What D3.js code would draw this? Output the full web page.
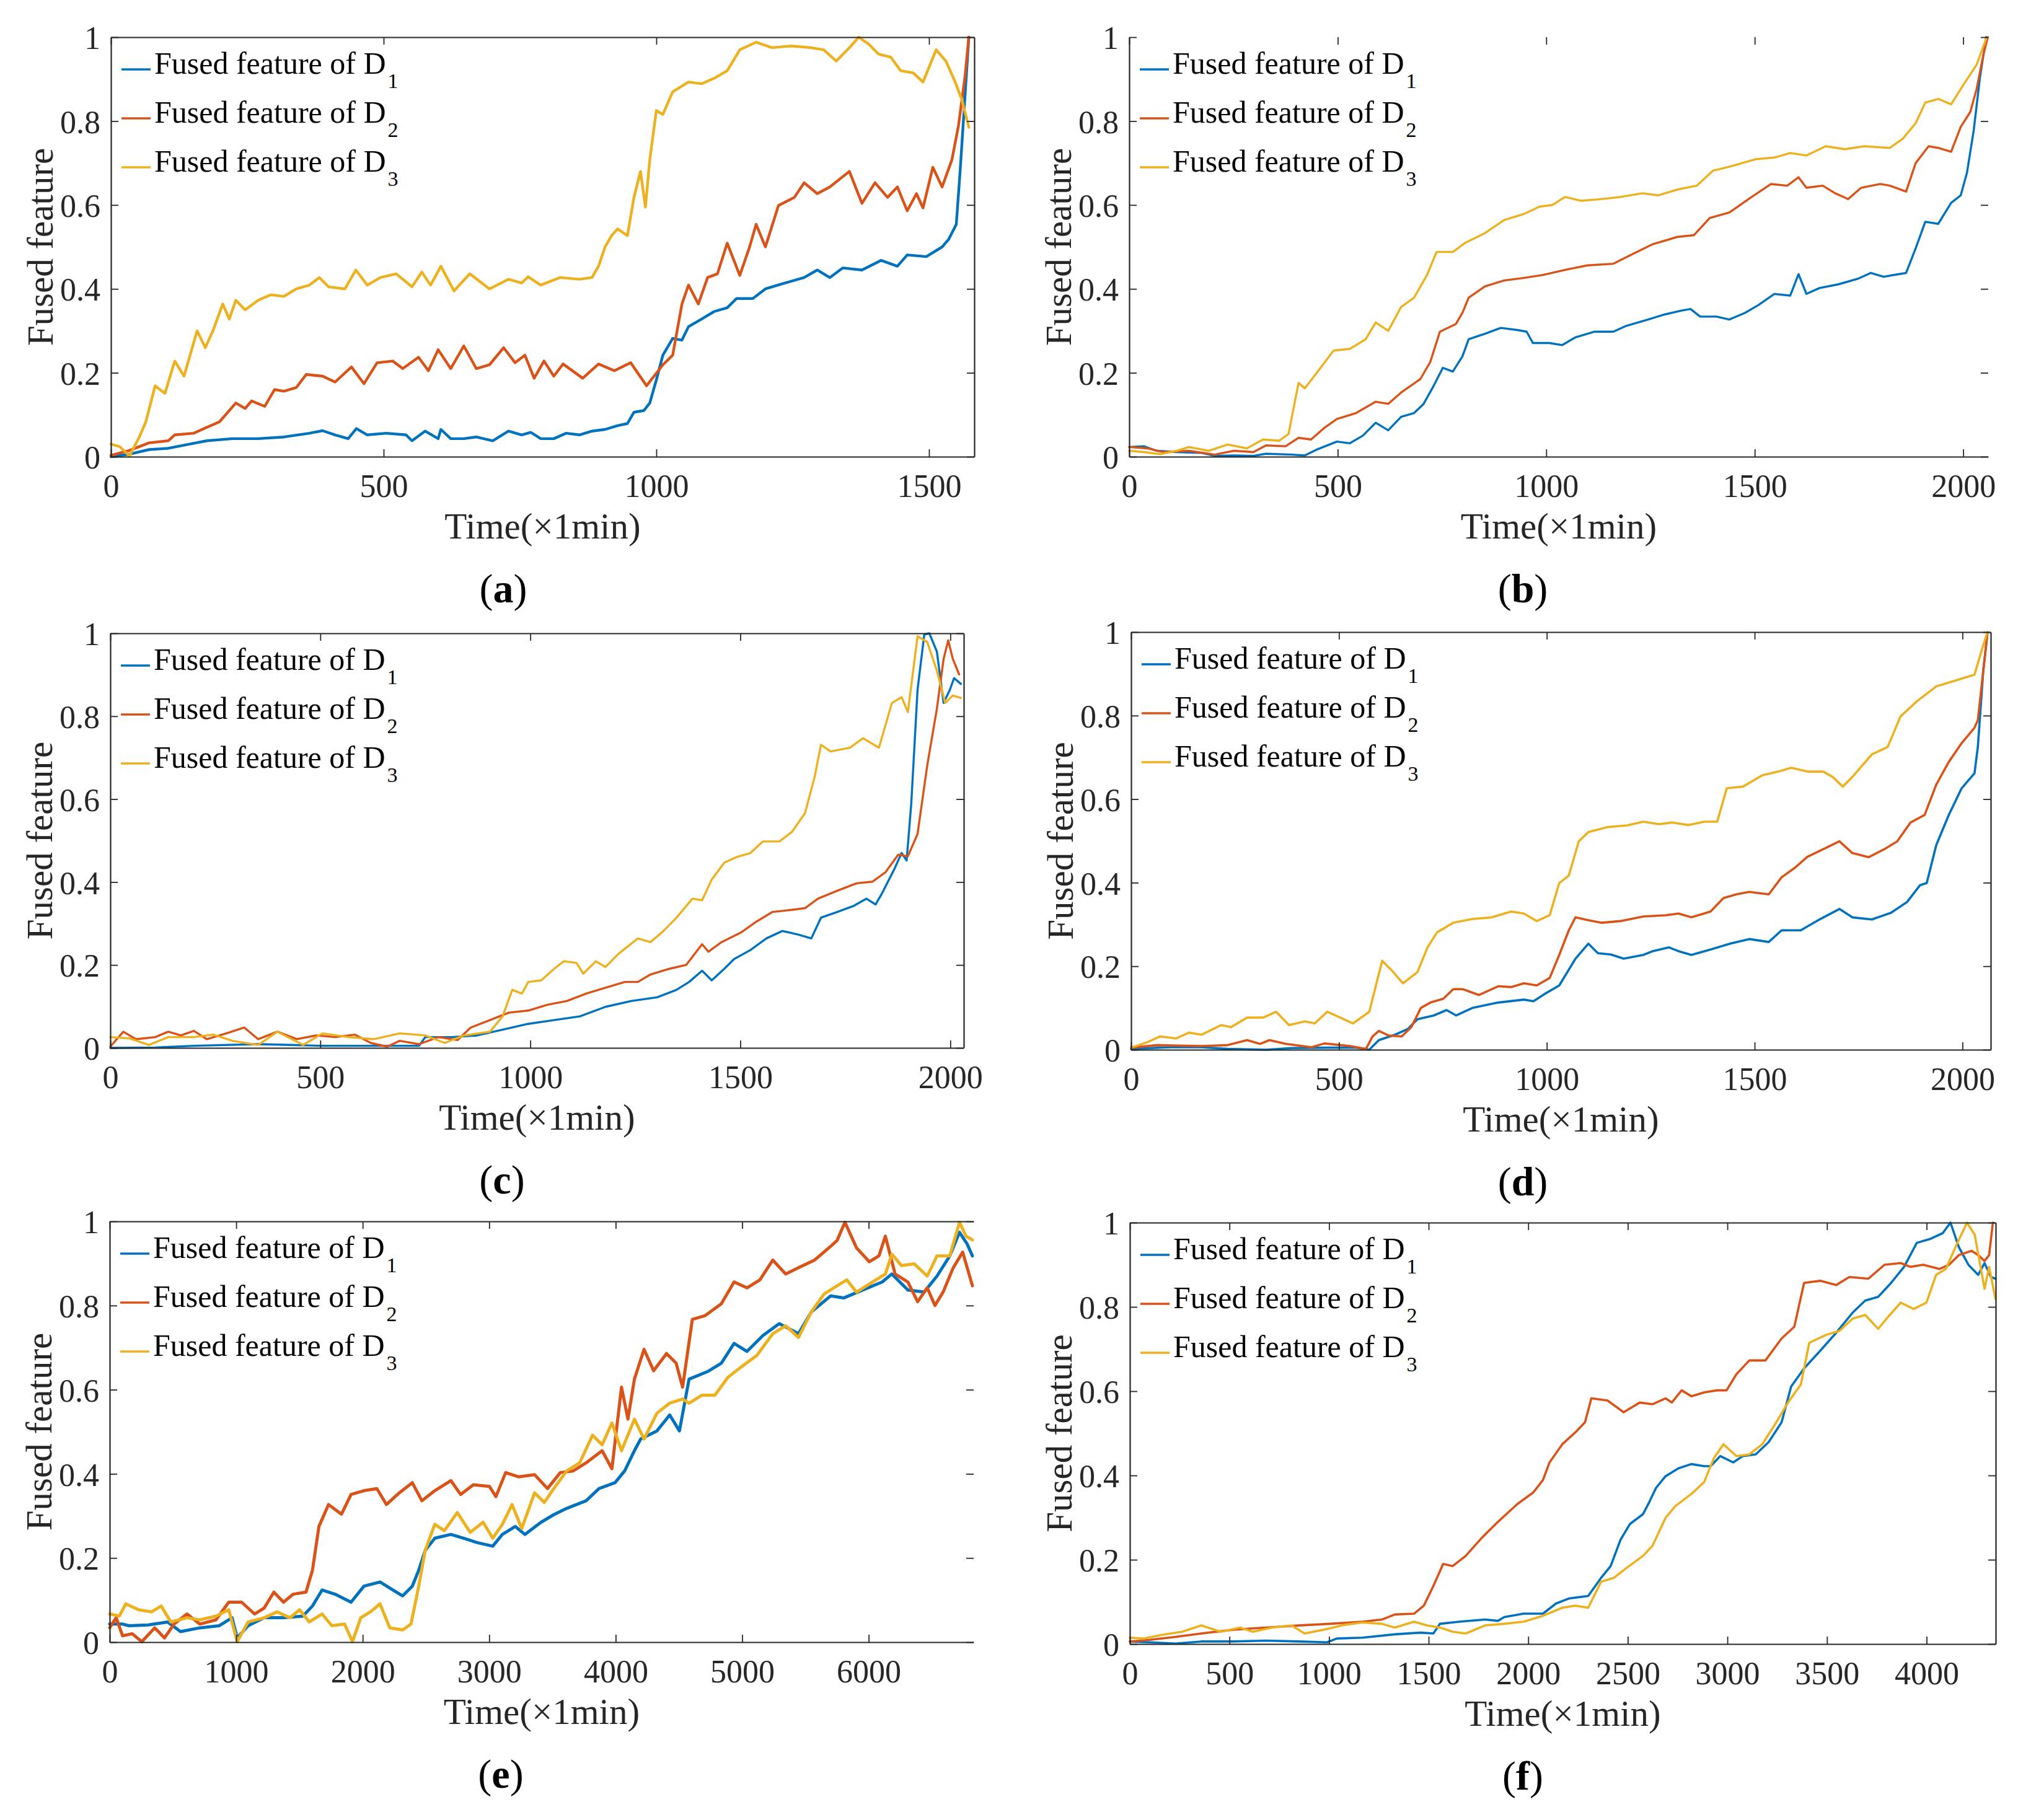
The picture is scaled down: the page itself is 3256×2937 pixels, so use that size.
<!DOCTYPE html>
<html>
<head>
<meta charset="utf-8">
<script src="https://cdn.jsdelivr.net/npm/d3@7"></script>
<style>
  html, body { margin: 0; padding: 0; background: #ffffff; }
  svg { display: block; }
</style>
</head>
<body>
<svg id="chart" width="3256" height="2937"></svg>
<script>
// ---------------- DATA ----------------
const seriesNames = ["Fused feature of D", "Fused feature of D", "Fused feature of D"];
const seriesSubs = ["1", "2", "3"];
const panelLetters = ["a", "b", "c", "d", "e", "f"];
const yTicks = [0, 0.2, 0.4, 0.6, 0.8, 1];
const xTicksA = [0, 500, 1000, 1500];
const xTicksB = [0, 500, 1000, 1500, 2000];
const xTicksC = [0, 500, 1000, 1500, 2000];
const xTicksD = [0, 500, 1000, 1500, 2000];
const xTicksE = [0, 1000, 2000, 3000, 4000, 5000, 6000];
const xTicksF = [0, 500, 1000, 1500, 2000, 2500, 3000, 3500, 4000];
const xMax = [1583, 2060, 2032, 2068, 6830, 4347];

// Panel (a)
const aD1 = [[0,0],[34,0.006],[70,0.017],[105,0.02],[140,0.029],[176,0.038],[223,0.043],[270,0.043],[317,0.047],[364,0.056],[388,0.062],[411,0.052],[435,0.043],[450,0.067],[470,0.052],[505,0.056],[541,0.052],[552,0.038],[576,0.061],[600,0.043],[605,0.065],[623,0.043],[647,0.043],[670,0.047],[700,0.038],[729,0.061],[753,0.052],[770,0.058],[788,0.043],[812,0.043],[835,0.056],[859,0.052],[882,0.061],[906,0.065],[929,0.074],[947,0.079],[959,0.106],[977,0.11],[988,0.128],[1000,0.183],[1012,0.242],[1030,0.282],[1047,0.278],[1059,0.31],[1083,0.328],[1106,0.346],[1130,0.355],[1147,0.377],[1177,0.377],[1200,0.4],[1236,0.414],[1271,0.427],[1295,0.445],[1318,0.427],[1342,0.45],[1377,0.445],[1412,0.468],[1442,0.454],[1460,0.481],[1495,0.477],[1524,0.5],[1536,0.518],[1550,0.554],[1557,0.68],[1566,0.86],[1573,1.0]];
const aD2 = [[0,0.003],[34,0.015],[70,0.033],[105,0.038],[117,0.052],[152,0.056],[176,0.07],[199,0.083],[229,0.128],[246,0.115],[258,0.133],[282,0.12],[300,0.16],[317,0.156],[340,0.165],[358,0.196],[388,0.192],[411,0.178],[441,0.214],[464,0.174],[488,0.224],[517,0.228],[535,0.21],[564,0.237],[582,0.205],[600,0.255],[623,0.21],[647,0.264],[670,0.21],[694,0.219],[720,0.26],[741,0.224],[759,0.242],[776,0.187],[794,0.228],[812,0.192],[829,0.221],[865,0.187],[894,0.221],[923,0.205],[953,0.224],[982,0.169],[1012,0.219],[1030,0.242],[1047,0.364],[1059,0.409],[1077,0.364],[1094,0.427],[1112,0.436],[1130,0.509],[1153,0.432],[1171,0.5],[1183,0.554],[1200,0.5],[1224,0.599],[1253,0.618],[1271,0.653],[1295,0.627],[1318,0.643],[1354,0.68],[1377,0.604],[1401,0.653],[1424,0.618],[1442,0.643],[1460,0.586],[1477,0.627],[1489,0.593],[1507,0.69],[1524,0.643],[1542,0.708],[1554,0.789],[1566,0.907],[1573,1.0]];
const aD3 = [[0,0.03],[16,0.024],[34,0.002],[52,0.047],[64,0.083],[81,0.169],[99,0.151],[117,0.228],[134,0.192],[158,0.3],[173,0.26],[187,0.3],[205,0.364],[217,0.328],[229,0.373],[246,0.35],[270,0.373],[293,0.386],[317,0.382],[340,0.4],[364,0.409],[382,0.427],[399,0.405],[429,0.4],[449,0.445],[470,0.409],[494,0.427],[523,0.436],[552,0.405],[570,0.44],[586,0.409],[605,0.454],[629,0.395],[658,0.436],[694,0.4],[729,0.423],[753,0.414],[765,0.429],[788,0.409],[823,0.427],[859,0.423],[882,0.427],[894,0.454],[906,0.5],[918,0.527],[929,0.543],[947,0.527],[959,0.618],[971,0.68],[980,0.595],[988,0.708],[1000,0.825],[1012,0.816],[1030,0.87],[1059,0.893],[1083,0.889],[1106,0.902],[1130,0.92],[1153,0.97],[1183,0.988],[1212,0.975],[1248,0.979],[1283,0.975],[1307,0.97],[1330,0.943],[1354,0.975],[1371,1.0],[1389,0.984],[1407,0.96],[1430,0.952],[1448,0.92],[1471,0.915],[1489,0.893],[1513,0.97],[1531,0.943],[1548,0.893],[1560,0.852],[1573,0.785]];

// Panel (b)
const bD1 = [[0,0.023],[35,0.025],[66,0.014],[113,0.011],[174,0.009],[205,0.002],[251,0.003],[298,0.002],[328,0.007],[390,0.005],[421,0.003],[452,0.018],[498,0.036],[529,0.032],[560,0.05],[591,0.081],[621,0.063],[652,0.095],[683,0.104],[706,0.126],[729,0.167],[752,0.212],[776,0.203],[799,0.239],[814,0.28],[853,0.293],[891,0.307],[930,0.302],[953,0.298],[968,0.271],[1007,0.271],[1038,0.266],[1069,0.284],[1115,0.298],[1161,0.298],[1192,0.312],[1238,0.325],[1284,0.339],[1323,0.348],[1346,0.352],[1369,0.334],[1408,0.334],[1439,0.327],[1477,0.343],[1508,0.361],[1547,0.388],[1585,0.384],[1605,0.435],[1624,0.388],[1655,0.402],[1701,0.411],[1747,0.424],[1778,0.438],[1809,0.429],[1863,0.438],[1886,0.497],[1909,0.56],[1940,0.555],[1971,0.605],[1994,0.623],[2009,0.677],[2025,0.777],[2040,0.903],[2055,1.0]];
const bD2 = [[0,0.023],[43,0.02],[82,0.011],[143,0.014],[205,0.005],[251,0.014],[298,0.011],[328,0.027],[375,0.025],[406,0.045],[436,0.041],[467,0.068],[498,0.09],[544,0.104],[591,0.131],[621,0.126],[652,0.153],[698,0.185],[722,0.226],[745,0.298],[783,0.316],[799,0.343],[814,0.379],[853,0.406],[899,0.42],[945,0.426],[991,0.433],[1053,0.447],[1099,0.456],[1161,0.46],[1207,0.483],[1254,0.506],[1315,0.524],[1354,0.528],[1392,0.569],[1439,0.582],[1485,0.614],[1539,0.65],[1578,0.646],[1605,0.666],[1624,0.641],[1663,0.646],[1693,0.628],[1724,0.614],[1755,0.641],[1801,0.65],[1824,0.646],[1863,0.632],[1886,0.7],[1917,0.74],[1940,0.736],[1971,0.727],[1994,0.786],[2017,0.822],[2032,0.876],[2048,0.957],[2059,1.0]];
const bD3 = [[0,0.014],[35,0.011],[74,0.006],[113,0.014],[143,0.023],[190,0.014],[236,0.029],[282,0.02],[321,0.041],[359,0.038],[382,0.054],[406,0.176],[421,0.163],[452,0.203],[490,0.253],[529,0.257],[567,0.28],[591,0.32],[621,0.3],[652,0.357],[683,0.379],[714,0.433],[737,0.488],[776,0.488],[806,0.51],[853,0.533],[899,0.564],[945,0.578],[984,0.596],[1015,0.6],[1045,0.619],[1084,0.61],[1130,0.614],[1177,0.619],[1231,0.628],[1269,0.623],[1315,0.637],[1361,0.646],[1400,0.682],[1439,0.691],[1501,0.709],[1547,0.713],[1585,0.724],[1624,0.718],[1670,0.74],[1716,0.733],[1763,0.74],[1824,0.736],[1855,0.758],[1886,0.795],[1909,0.844],[1940,0.853],[1971,0.84],[2002,0.889],[2032,0.934],[2055,0.996]];

// Panel (c)
const cD1 = [[0,0],[107,0.001],[199,0.005],[352,0.009],[429,0.007],[505,0.005],[659,0.005],[735,0.005],[750,0.026],[812,0.026],[873,0.03],[934,0.044],[995,0.058],[1057,0.067],[1118,0.076],[1179,0.099],[1240,0.113],[1302,0.122],[1348,0.14],[1378,0.159],[1409,0.186],[1432,0.163],[1462,0.191],[1485,0.214],[1524,0.236],[1562,0.264],[1600,0.282],[1639,0.273],[1669,0.264],[1692,0.314],[1731,0.328],[1769,0.342],[1800,0.36],[1822,0.346],[1838,0.374],[1868,0.434],[1884,0.47],[1896,0.452],[1907,0.589],[1922,0.864],[1938,0.997],[1950,1.0],[1968,0.956],[1984,0.832],[1999,0.864],[2009,0.892],[2025,0.878]];
const cD2 = [[0,0.003],[31,0.039],[61,0.021],[107,0.026],[138,0.039],[168,0.03],[199,0.041],[230,0.021],[276,0.035],[319,0.049],[352,0.021],[398,0.039],[444,0.021],[490,0.03],[536,0.026],[582,0.032],[620,0.012],[659,0.003],[689,0.017],[735,0.009],[781,0.026],[827,0.019],[858,0.049],[904,0.067],[949,0.085],[995,0.09],[1041,0.104],[1087,0.113],[1133,0.131],[1179,0.145],[1225,0.159],[1256,0.159],[1286,0.177],[1332,0.191],[1371,0.2],[1409,0.25],[1424,0.232],[1455,0.255],[1501,0.278],[1539,0.305],[1577,0.328],[1623,0.333],[1654,0.337],[1685,0.36],[1731,0.379],[1777,0.397],[1815,0.401],[1846,0.424],[1876,0.466],[1899,0.462],[1922,0.516],[1945,0.681],[1968,0.818],[1984,0.938],[1995,0.983],[2006,0.938],[2021,0.901]];
const cD3 = [[0,0.026],[46,0.023],[92,0.007],[138,0.026],[199,0.026],[245,0.032],[291,0.017],[352,0.007],[398,0.039],[459,0.007],[505,0.035],[567,0.026],[628,0.021],[689,0.035],[750,0.03],[796,0.012],[842,0.03],[904,0.039],[934,0.076],[957,0.14],[980,0.131],[995,0.159],[1026,0.163],[1057,0.191],[1080,0.209],[1110,0.205],[1126,0.179],[1156,0.209],[1179,0.195],[1210,0.227],[1256,0.264],[1286,0.255],[1317,0.282],[1348,0.314],[1386,0.36],[1409,0.356],[1432,0.406],[1462,0.447],[1493,0.461],[1524,0.47],[1554,0.498],[1593,0.498],[1623,0.521],[1654,0.566],[1677,0.654],[1692,0.731],[1715,0.715],[1761,0.724],[1792,0.747],[1830,0.724],[1861,0.832],[1884,0.846],[1899,0.81],[1922,0.993],[1945,0.979],[1968,0.91],[1988,0.832],[2006,0.85],[2025,0.844]];

// Panel (d)
const dD1 = [[0,0.002],[93,0.006],[170,0.006],[232,0.002],[325,0],[387,0.004],[480,0.005],[542,0.005],[573,0],[596,0.023],[635,0.036],[666,0.05],[689,0.073],[728,0.082],[759,0.095],[782,0.082],[821,0.1],[883,0.113],[945,0.12],[968,0.116],[999,0.136],[1030,0.154],[1069,0.218],[1100,0.254],[1123,0.231],[1154,0.228],[1185,0.218],[1232,0.227],[1255,0.236],[1294,0.245],[1317,0.236],[1348,0.227],[1394,0.24],[1441,0.254],[1487,0.265],[1534,0.258],[1565,0.286],[1611,0.286],[1658,0.313],[1704,0.337],[1735,0.317],[1782,0.312],[1828,0.328],[1867,0.354],[1898,0.394],[1914,0.399],[1937,0.49],[1967,0.562],[1998,0.626],[2029,0.662],[2037,0.725],[2050,0.907],[2060,0.997]];
const dD2 = [[0,0.005],[62,0.011],[170,0.009],[232,0.011],[279,0.023],[310,0.014],[333,0.023],[372,0.014],[434,0.006],[465,0.015],[527,0.009],[565,0.002],[581,0.032],[596,0.045],[620,0.034],[651,0.032],[674,0.054],[697,0.1],[720,0.113],[751,0.122],[775,0.145],[798,0.145],[837,0.131],[883,0.152],[914,0.15],[945,0.159],[976,0.154],[1007,0.172],[1030,0.227],[1053,0.286],[1069,0.317],[1100,0.31],[1131,0.304],[1177,0.308],[1232,0.319],[1286,0.322],[1317,0.326],[1348,0.317],[1394,0.331],[1425,0.363],[1456,0.372],[1487,0.378],[1534,0.372],[1565,0.413],[1596,0.435],[1627,0.462],[1665,0.48],[1704,0.499],[1735,0.471],[1774,0.461],[1812,0.48],[1843,0.499],[1875,0.544],[1909,0.562],[1937,0.635],[1967,0.689],[1998,0.734],[2029,0.771],[2037,0.789],[2050,0.907],[2060,0.997]];
const dD3 = [[0,0.005],[39,0.018],[70,0.032],[108,0.027],[139,0.041],[170,0.036],[217,0.059],[240,0.054],[279,0.077],[318,0.077],[349,0.091],[380,0.059],[418,0.068],[442,0.063],[472,0.091],[503,0.077],[534,0.063],[573,0.091],[589,0.154],[604,0.213],[627,0.19],[654,0.159],[689,0.186],[713,0.245],[736,0.281],[775,0.304],[821,0.313],[868,0.317],[914,0.331],[945,0.326],[976,0.308],[1007,0.322],[1030,0.399],[1053,0.417],[1077,0.499],[1100,0.521],[1146,0.533],[1193,0.537],[1232,0.546],[1270,0.54],[1301,0.544],[1340,0.538],[1379,0.546],[1410,0.546],[1433,0.626],[1472,0.63],[1518,0.657],[1557,0.666],[1588,0.675],[1627,0.666],[1665,0.666],[1688,0.653],[1712,0.63],[1735,0.653],[1782,0.707],[1820,0.725],[1851,0.798],[1890,0.834],[1937,0.87],[1983,0.884],[2029,0.898],[2045,0.952],[2060,1.0]];

// Panel (e)
const eD1 = [[0,0.043],[102,0.043],[153,0.039],[305,0.041],[458,0.048],[560,0.025],[712,0.034],[865,0.039],[967,0.058],[1008,0.01],[1094,0.039],[1221,0.058],[1374,0.058],[1527,0.062],[1603,0.086],[1679,0.124],[1781,0.114],[1908,0.095],[2010,0.133],[2137,0.143],[2239,0.124],[2316,0.11],[2392,0.133],[2443,0.171],[2494,0.218],[2570,0.247],[2697,0.256],[2799,0.247],[2901,0.237],[3028,0.228],[3104,0.256],[3206,0.275],[3282,0.256],[3410,0.285],[3511,0.303],[3613,0.318],[3766,0.336],[3868,0.365],[3995,0.379],[4071,0.407],[4148,0.455],[4198,0.483],[4326,0.502],[4427,0.54],[4504,0.502],[4580,0.625],[4733,0.644],[4835,0.663],[4936,0.71],[5038,0.691],[5165,0.729],[5293,0.757],[5445,0.733],[5547,0.785],[5700,0.823],[5802,0.818],[5954,0.837],[6107,0.856],[6183,0.875],[6310,0.837],[6438,0.832],[6540,0.87],[6641,0.918],[6718,0.974],[6779,0.946],[6820,0.918]];
const eD2 = [[0,0.034],[51,0.058],[102,0.015],[178,0.02],[254,0.001],[356,0.034],[433,0.01],[509,0.043],[611,0.067],[712,0.043],[840,0.053],[941,0.095],[1043,0.095],[1145,0.067],[1221,0.081],[1298,0.119],[1374,0.095],[1450,0.114],[1552,0.119],[1603,0.171],[1654,0.275],[1730,0.327],[1832,0.304],[1908,0.351],[2010,0.36],[2112,0.365],[2188,0.327],[2290,0.355],[2392,0.379],[2468,0.336],[2570,0.36],[2697,0.384],[2774,0.351],[2875,0.374],[3002,0.37],[3053,0.346],[3130,0.403],[3231,0.393],[3359,0.398],[3461,0.365],[3562,0.403],[3664,0.407],[3766,0.426],[3893,0.455],[3970,0.412],[4046,0.606],[4097,0.53],[4148,0.625],[4224,0.696],[4300,0.645],[4402,0.686],[4478,0.663],[4529,0.606],[4606,0.767],[4707,0.776],[4835,0.804],[4936,0.856],[5038,0.842],[5140,0.861],[5242,0.908],[5344,0.875],[5445,0.89],[5572,0.908],[5700,0.941],[5751,0.955],[5812,0.998],[5904,0.937],[6005,0.904],[6081,0.918],[6132,0.965],[6209,0.875],[6310,0.856],[6387,0.809],[6463,0.842],[6524,0.8],[6590,0.833],[6667,0.889],[6743,0.927],[6820,0.847]];
const eD3 = [[0,0.067],[76,0.062],[127,0.091],[229,0.077],[331,0.072],[407,0.086],[483,0.048],[611,0.058],[712,0.053],[840,0.062],[941,0.077],[1008,0.001],[1094,0.048],[1221,0.058],[1323,0.072],[1425,0.058],[1501,0.077],[1578,0.048],[1679,0.067],[1756,0.039],[1857,0.043],[1919,0.001],[1985,0.058],[2061,0.072],[2137,0.091],[2214,0.034],[2316,0.029],[2382,0.043],[2443,0.133],[2494,0.218],[2570,0.28],[2646,0.265],[2748,0.308],[2850,0.261],[2952,0.285],[3028,0.247],[3104,0.28],[3181,0.327],[3257,0.27],[3359,0.355],[3435,0.332],[3511,0.365],[3613,0.407],[3715,0.426],[3817,0.492],[3893,0.469],[3970,0.521],[4046,0.455],[4148,0.53],[4224,0.483],[4326,0.544],[4427,0.568],[4529,0.578],[4580,0.568],[4682,0.587],[4784,0.587],[4886,0.629],[4987,0.653],[5115,0.681],[5242,0.733],[5344,0.752],[5445,0.724],[5547,0.785],[5649,0.828],[5751,0.847],[5827,0.861],[5904,0.832],[6005,0.851],[6132,0.875],[6183,0.922],[6259,0.895],[6361,0.899],[6463,0.87],[6540,0.918],[6641,0.918],[6718,0.998],[6769,0.965],[6820,0.956]];

// Panel (f)
const fD1 = [[0,0.006],[100,0.004],[230,0.001],[359,0.006],[521,0.006],[683,0.008],[845,0.006],[990,0.004],[1039,0.013],[1168,0.015],[1330,0.023],[1459,0.027],[1524,0.025],[1557,0.048],[1654,0.053],[1783,0.058],[1848,0.055],[1880,0.064],[1977,0.072],[2074,0.072],[2139,0.096],[2204,0.108],[2301,0.114],[2366,0.157],[2414,0.185],[2463,0.247],[2511,0.285],[2576,0.308],[2608,0.337],[2641,0.37],[2689,0.398],[2754,0.417],[2819,0.427],[2883,0.422],[2916,0.422],[2964,0.446],[3029,0.431],[3077,0.446],[3142,0.45],[3207,0.479],[3272,0.526],[3320,0.611],[3385,0.654],[3466,0.696],[3547,0.739],[3628,0.786],[3692,0.815],[3757,0.824],[3822,0.857],[3887,0.895],[3951,0.952],[4016,0.961],[4081,0.975],[4120,1.0],[4162,0.942],[4210,0.9],[4259,0.876],[4291,0.904],[4323,0.871],[4346,0.867]];
const fD2 = [[0,0.006],[100,0.01],[230,0.017],[359,0.025],[521,0.034],[683,0.039],[845,0.044],[1006,0.048],[1168,0.053],[1265,0.058],[1330,0.07],[1427,0.072],[1476,0.091],[1524,0.138],[1573,0.19],[1621,0.185],[1686,0.209],[1767,0.252],[1848,0.29],[1945,0.332],[2026,0.36],[2074,0.389],[2107,0.431],[2171,0.474],[2236,0.502],[2285,0.526],[2317,0.583],[2398,0.578],[2479,0.55],[2560,0.573],[2624,0.569],[2689,0.583],[2721,0.573],[2770,0.602],[2819,0.588],[2883,0.597],[2948,0.602],[2996,0.602],[3045,0.64],[3110,0.673],[3191,0.673],[3272,0.725],[3336,0.753],[3385,0.857],[3466,0.862],[3547,0.852],[3612,0.871],[3708,0.867],[3789,0.9],[3870,0.904],[3919,0.895],[3983,0.9],[4064,0.89],[4113,0.9],[4162,0.923],[4226,0.933],[4259,0.923],[4291,0.909],[4314,0.923],[4333,1.0]];
const fD3 = [[0,0.015],[68,0.013],[165,0.022],[262,0.029],[359,0.044],[456,0.029],[553,0.039],[618,0.029],[715,0.039],[812,0.044],[877,0.025],[974,0.034],[1071,0.045],[1168,0.051],[1265,0.048],[1330,0.039],[1427,0.053],[1492,0.044],[1557,0.039],[1621,0.029],[1686,0.025],[1783,0.044],[1880,0.048],[1977,0.053],[2074,0.067],[2171,0.086],[2236,0.091],[2301,0.086],[2366,0.148],[2430,0.157],[2495,0.181],[2576,0.209],[2624,0.233],[2689,0.299],[2738,0.327],[2819,0.356],[2883,0.384],[2932,0.441],[2980,0.474],[3045,0.446],[3110,0.45],[3175,0.474],[3239,0.521],[3304,0.573],[3369,0.616],[3411,0.715],[3498,0.734],[3563,0.743],[3628,0.772],[3692,0.781],[3757,0.748],[3806,0.776],[3870,0.81],[3935,0.795],[3999,0.81],[4048,0.876],[4097,0.89],[4145,0.942],[4203,1.0],[4242,0.971],[4291,0.843],[4314,0.895],[4346,0.819]];

const colors = ["#0072BD", "#D95319", "#EDB120"];

// ---------------- LAYOUT ----------------
const panels = [
  { key: "a", left: 179,  right: 1572, top: 60,   bottom: 737,  xmax: xMax[0], ticks: xTicksA, data: [aD1, aD2, aD3], lw: 4.4, boxTop: true,  boxRight: true,  labelX: 812 },
  { key: "b", left: 1822, right: 3208, top: 60,   bottom: 737,  xmax: xMax[1], ticks: xTicksB, data: [bD1, bD2, bD3], lw: 3.4, boxTop: false, boxRight: false, labelX: 2457 },
  { key: "c", left: 178,  right: 1555, top: 1022, bottom: 1691, xmax: xMax[2], ticks: xTicksC, data: [cD1, cD2, cD3], lw: 3.4, boxTop: true,  boxRight: true,  labelX: 810 },
  { key: "d", left: 1825, right: 3212, top: 1020, bottom: 1694, xmax: xMax[3], ticks: xTicksD, data: [dD1, dD2, dD3], lw: 3.6, boxTop: true,  boxRight: true,  labelX: 2457 },
  { key: "e", left: 177,  right: 1571, top: 1971, bottom: 2650, xmax: xMax[4], ticks: xTicksE, data: [eD1, eD2, eD3], lw: 5.0, boxTop: true,  boxRight: false, labelX: 808 },
  { key: "f", left: 1823, right: 3220, top: 1973, bottom: 2653, xmax: xMax[5], ticks: xTicksF, data: [fD1, fD2, fD3], lw: 3.6, boxTop: true,  boxRight: true,  labelX: 2457 }
];

const FONT = "'Liberation Serif', 'Times New Roman', Times, serif";
const AX = "#262626";
const svg = d3.select("#chart");
svg.append("rect").attr("width", 3256).attr("height", 2937).attr("fill", "#ffffff");

const yFmt = d => (d === 0 ? "0" : d === 1 ? "1" : d3.format(".1f")(d));

function styleAxis(g, showDomain) {
  g.selectAll(".domain").attr("stroke", AX).attr("stroke-width", 2.2).style("display", showDomain ? null : "none");
  g.selectAll(".tick line").attr("stroke", AX).attr("stroke-width", 1.8);
  g.selectAll(".tick text").attr("fill", AX).style("font-family", FONT).style("font-size", "52px");
}

panels.forEach(p => {
  const x = d3.scaleLinear().domain([0, p.xmax]).range([p.left, p.right]);
  const y = d3.scaleLinear().domain([0, 1]).range([p.bottom, p.top]);
  const g = svg.append("g").attr("class", "panel-" + p.key);

  // data lines
  const line = d3.line().x(d => x(d[0])).y(d => y(d[1]));
  p.data.forEach((s, i) => {
    g.append("path")
      .attr("d", line(s))
      .attr("fill", "none")
      .attr("stroke", colors[i])
      .attr("stroke-width", p.lw)
      .attr("stroke-linejoin", "round")
      .attr("stroke-linecap", "round");
  });

  // axes
  const gb = g.append("g").attr("transform", `translate(0,${p.bottom})`)
    .call(d3.axisBottom(x).tickValues(p.ticks).tickSizeInner(-12).tickSizeOuter(0).tickPadding(28).tickFormat(d3.format("d")));
  styleAxis(gb, true);
  const gl = g.append("g").attr("transform", `translate(${p.left},0)`)
    .call(d3.axisLeft(y).tickValues(yTicks).tickSizeInner(-12).tickSizeOuter(0).tickPadding(17).tickFormat(yFmt));
  styleAxis(gl, true);
  gl.selectAll(".tick text").attr("dy", "0.36em");
  const gt = g.append("g").attr("transform", `translate(0,${p.top})`)
    .call(d3.axisTop(x).tickValues(p.ticks).tickSizeInner(-12).tickSizeOuter(0).tickFormat(""));
  styleAxis(gt, p.boxTop);
  const gr = g.append("g").attr("transform", `translate(${p.right},0)`)
    .call(d3.axisRight(y).tickValues(yTicks).tickSizeInner(-12).tickSizeOuter(0).tickFormat(""));
  styleAxis(gr, p.boxRight);

  // axis titles
  g.append("text")
    .attr("x", (p.left + p.right) / 2).attr("y", p.bottom + 132)
    .attr("text-anchor", "middle").attr("fill", AX)
    .style("font-family", FONT).style("font-size", "59px")
    .text("Time(×1min)");
  g.append("text")
    .attr("transform", `translate(${p.left - 94},${(p.top + p.bottom) / 2}) rotate(-90)`)
    .attr("text-anchor", "middle").attr("fill", AX)
    .style("font-family", FONT).style("font-size", "59px")
    .text("Fused feature");

  // legend
  colors.forEach((c, i) => {
    const ly = p.top + 52 + i * 79;
    g.append("line")
      .attr("x1", p.left + 17).attr("x2", p.left + 64)
      .attr("y1", ly).attr("y2", ly)
      .attr("stroke", c).attr("stroke-width", 3.6);
    const t = g.append("text")
      .attr("x", p.left + 70).attr("y", ly + 7)
      .attr("fill", "#000")
      .style("font-family", FONT).style("font-size", "50px");
    t.append("tspan").text(seriesNames[i]);
    t.append("tspan").attr("dx", 3).attr("dy", 23).style("font-size", "34px").text(seriesSubs[i]);
  });

  // panel label
  const pl = g.append("text")
    .attr("x", p.labelX).attr("y", p.bottom + 235)
    .attr("text-anchor", "middle").attr("fill", "#000")
    .style("font-family", FONT).style("font-size", "66px");
  pl.append("tspan").text("(");
  pl.append("tspan").style("font-weight", "bold").text(p.key);
  pl.append("tspan").text(")");
});
</script>
</body>
</html>
